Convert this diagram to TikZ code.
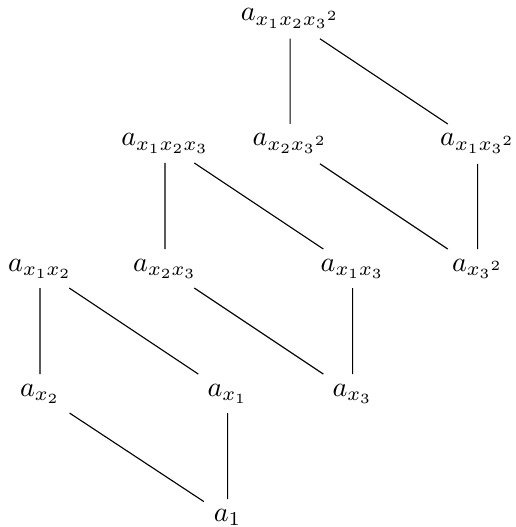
\documentclass[tikz,border=0pt]{standalone}
\begin{document}
\begin{tikzpicture}[scale=1.25, lbl/.style={anchor=base}, edge/.style={draw=black, line width=0.4pt}]
\useasboundingbox (0,0) rectangle (5.15,-5.27);
\node[lbl] (t)    at (2.90,-0.21)  {$a_{x_1x_2{x_3}^2}$};
\node[lbl] (a123) at (1.65,-1.46)  {$a_{x_1x_2x_3}$};
\node[lbl] (a233) at (2.90,-1.46)  {$a_{x_2{x_3}^2}$};
\node[lbl] (a133) at (4.775,-1.46) {$a_{x_1{x_3}^2}$};
\node[lbl] (a12)  at (0.40,-2.71)  {$a_{x_1x_2}$};
\node[lbl] (a23)  at (1.65,-2.71)  {$a_{x_2x_3}$};
\node[lbl] (a13)  at (3.525,-2.71) {$a_{x_1x_3}$};
\node[lbl] (a33)  at (4.775,-2.71) {$a_{{x_3}^2}$};
\node[lbl] (a2)   at (0.40,-3.96)  {$a_{x_2}$};
\node[lbl] (a1)   at (2.275,-3.96) {$a_{x_1}$};
\node[lbl] (a3)   at (3.525,-3.96) {$a_{x_3}$};
\node[lbl] (one)  at (2.275,-5.21) {$a_1$};
\draw[edge] (t) -- (a233);
\draw[edge] (t) -- (a133);
\draw[edge] (a123) -- (a23);
\draw[edge] (a123) -- (a13);
\draw[edge] (a233) -- (a33);
\draw[edge] (a133) -- (a33);
\draw[edge] (a12) -- (a2);
\draw[edge] (a12) -- (a1);
\draw[edge] (a23) -- (a3);
\draw[edge] (a13) -- (a3);
\draw[edge] (a2) -- (one);
\draw[edge] (a1) -- (one);
\end{tikzpicture}
\end{document}
